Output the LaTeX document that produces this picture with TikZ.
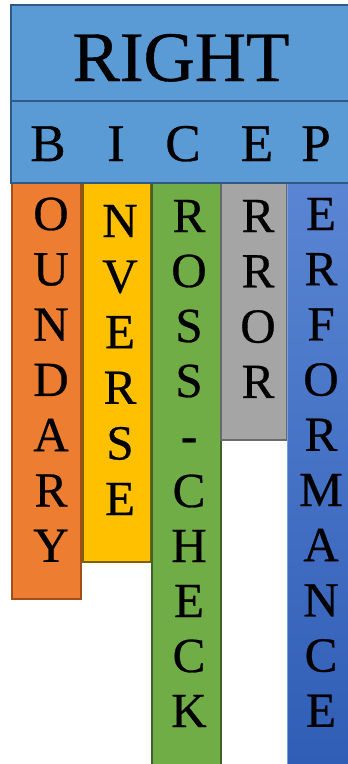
\documentclass[tikz,border=0pt]{standalone}
\usepackage{fontspec}
\setmainfont{Liberation Serif}
\newfontfamily\timesf[FakeBold=0.6]{Liberation Serif}
\definecolor{hdr}{HTML}{5B9BD5}
\definecolor{hdrb}{HTML}{2E5A87}
\definecolor{org}{HTML}{ED7D31}
\definecolor{orgb}{HTML}{A24F1C}
\definecolor{yel}{HTML}{FFC000}
\definecolor{yelb}{HTML}{7F6000}
\definecolor{grn}{HTML}{70AD47}
\definecolor{grnb}{HTML}{41612C}
\definecolor{gry}{HTML}{A5A5A5}
\definecolor{gryb}{HTML}{6A6A6A}
\definecolor{bluetop}{HTML}{5B86D4}
\definecolor{bluebot}{HTML}{2F5DB5}
\begin{document}
\begin{tikzpicture}[x=1pt,y=-1pt,
  colbox/.style={line width=1.6pt},
  hdrbox/.style={fill=hdr,draw=hdrb,line width=2pt},
  letter/.style={anchor=base,inner sep=0pt,font=\timesf\fontsize{49}{55}\selectfont},
  head/.style={anchor=base,inner sep=0pt,font=\timesf\fontsize{53}{60}\selectfont},
  title/.style={anchor=base,inner sep=0pt,font=\timesf\fontsize{71}{80}\selectfont}]
\useasboundingbox (0,0) rectangle (348,764);
\clip (0,0) rectangle (348,764);
% columns
\draw[colbox,fill=org,draw=orgb] (12,170) rectangle (81,599);
\draw[colbox,fill=yel,draw=yelb] (83,170) rectangle (151,562);
\draw[colbox,fill=grn,draw=grnb] (152,170) rectangle (221,775);
\draw[colbox,fill=gry,draw=gryb] (221,170) rectangle (287,440);
\shade[top color=bluetop,bottom color=bluebot] (287,170) rectangle (365,775);
\draw[line width=0.8pt,draw=bluetop!80!white] (287,183) -- (287,775);
% header
\draw[hdrbox] (10.5,5) rectangle (365,101);
\draw[hdrbox] (10.5,101) rectangle (365,183);
\node[title] (right) at (181,81) {RIGHT};
\node[head] (hB) at (48,161) {B};
\node[head] (hI) at (116,161) {I};
\node[head] (hC) at (183,161) {C};
\node[head] (hE) at (257,161) {E};
\node[head] (hP) at (316,161) {P};
% letters
\foreach \l [count=\i] in {O,U,N,D,A,R,Y}
  \node[letter] (o\i) at (51,{230+(\i-1)*55.3}) {\l};
\foreach \l [count=\i] in {N,V,E,R,S,E}
  \node[letter] (y\i) at (120,{237+(\i-1)*55.6}) {\l};
\foreach \l [count=\i] in {R,O,S,S,-,C,H,E,C,K}
  \node[letter] (g\i) at (189,{232+(\i-1)*55}) {\l};
\foreach \l [count=\i] in {R,R,O,R}
  \node[letter] (r\i) at (258,{232+(\i-1)*55.3}) {\l};
\foreach \l [count=\i] in {E,R,F,O,R,M,A,N,C,E}
  \node[letter] (b\i) at (321,{230+(\i-1)*55.2}) {\l};
\end{tikzpicture}
\end{document}
